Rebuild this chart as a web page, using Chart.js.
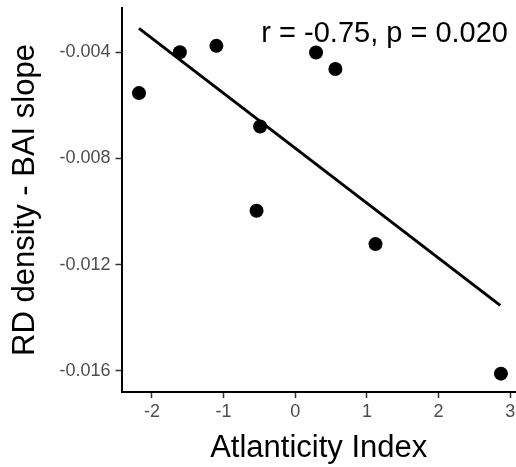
<!DOCTYPE html>
<html>
<head>
<meta charset="utf-8">
<script src="https://cdn.jsdelivr.net/npm/chart.js@4/dist/chart.umd.min.js"></script>
<style>
    body { margin: 0; background: #fff; }
    #chart { display: block; }
</style>
</head>
<body>
<canvas id="chart" width="516" height="467"></canvas>
<script>
// Data
const atlanticity = [-2.18, -1.61, -1.10, -0.49, -0.54, 0.29, 0.56, 1.12, 2.87];
const baiSlope = [-0.00554, -0.00400, -0.00376, -0.00680, -0.00997, -0.00401, -0.00463, -0.01123, -0.01611];
const fitX = [-2.18, 2.86];
const fitY = [-0.00310, -0.01354];
const xTicks = [-2, -1, 0, 1, 2, 3];
const yTicks = [-0.004, -0.008, -0.012, -0.016];
const statsLabel = 'r = -0.75, p = 0.020';

const FONT = "'Liberation Sans', Arial, sans-serif";

// Annotation in the top right corner
const statsText = {
    id: 'statsText',
    afterDraw(chart) {
        const ctx = chart.ctx;
        const area = chart.chartArea;
        ctx.save();
        ctx.font = '29px ' + FONT;
        ctx.fillStyle = '#000';
        ctx.textAlign = 'right';
        ctx.textBaseline = 'alphabetic';
        ctx.fillText(statsLabel, area.right - 8, area.top + 34);
        ctx.restore();
    }
};

const points = atlanticity.map((x, i) => ({ x: x, y: baiSlope[i] }));
const fitLine = fitX.map((x, i) => ({ x: x, y: fitY[i] }));

new Chart(document.getElementById('chart'), {
    type: 'scatter',
    data: {
        datasets: [{
            data: fitLine,
            showLine: true,
            borderColor: '#000',
            borderWidth: 3,
            pointRadius: 0,
            fill: false
        }, {
            data: points,
            backgroundColor: '#000',
            borderWidth: 0,
            pointRadius: 7
        }]
    },
    options: {
        responsive: false,
        animation: false,
        layout: { autoPadding: false, padding: { top: 8, left: 0, right: 0, bottom: 0 } },
        plugins: {
            legend: { display: false },
            tooltip: { enabled: false }
        },
        scales: {
            x: {
                type: 'linear',
                min: -2.424,
                max: 3.08,
                afterBuildTicks: scale => {
                    scale.ticks = xTicks.map(v => ({ value: v }));
                },
                afterFit: scale => {
                    scale.height = 75;
                    scale.paddingLeft = 0;
                    scale.paddingRight = 0;
                },
                border: { display: true, color: '#000', width: 2 },
                grid: {
                    drawOnChartArea: false,
                    drawTicks: true,
                    tickLength: 6,
                    tickColor: '#333',
                    tickWidth: 1.5
                },
                ticks: {
                    color: '#4d4d4d',
                    font: { family: FONT, size: 18 },
                    padding: 3,
                    maxRotation: 0,
                    callback: v => String(v)
                },
                title: {
                    display: true,
                    text: 'Atlanticity Index',
                    color: '#000',
                    font: { family: FONT, size: 31, lineHeight: 1.2 },
                    padding: { top: 0, bottom: 0 }
                }
            },
            y: {
                type: 'linear',
                min: -0.016802,
                max: -0.002333,
                afterBuildTicks: scale => {
                    scale.ticks = yTicks.map(v => ({ value: v }));
                },
                afterFit: scale => {
                    scale.width = 121.5;
                    scale.paddingTop = 0;
                    scale.paddingBottom = 0;
                },
                border: { display: true, color: '#000', width: 2 },
                grid: {
                    drawOnChartArea: false,
                    drawTicks: true,
                    tickLength: 6,
                    tickColor: '#333',
                    tickWidth: 1.5
                },
                ticks: {
                    color: '#4d4d4d',
                    font: { family: FONT, size: 18 },
                    padding: 5,
                    callback: v => v.toFixed(3)
                },
                title: {
                    display: true,
                    text: 'RD density - BAI slope',
                    color: '#000',
                    font: { family: FONT, size: 31, lineHeight: 1.2 },
                    padding: { top: 7, bottom: 0 }
                }
            }
        }
    },
    plugins: [statsText]
});
</script>
</body>
</html>
